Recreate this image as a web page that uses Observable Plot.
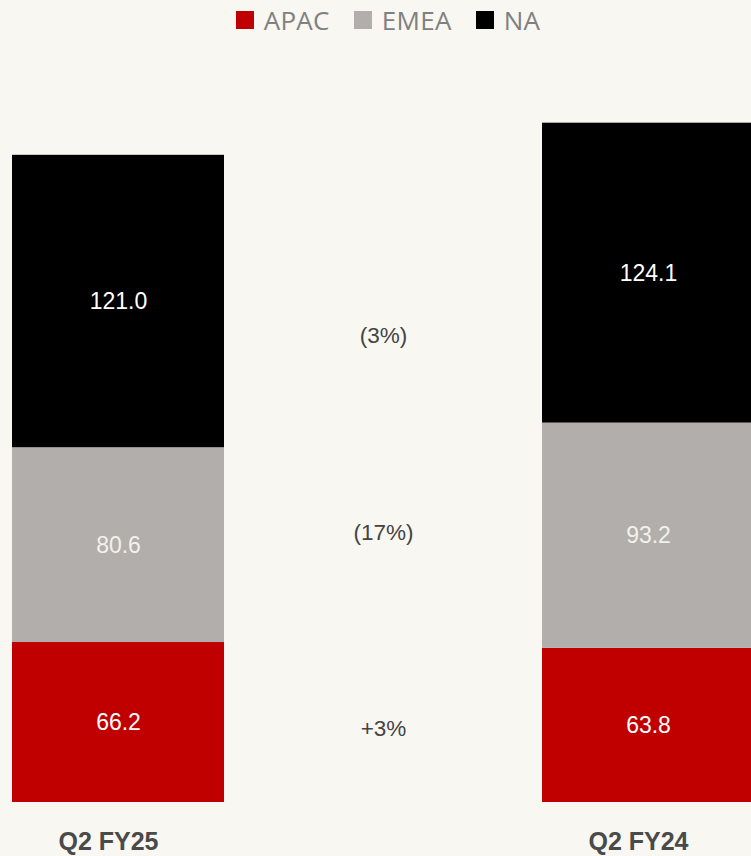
<!DOCTYPE html>
<html>
<head>
<meta charset="utf-8">
<script src="https://cdn.jsdelivr.net/npm/d3@7"></script>
<script src="https://cdn.jsdelivr.net/npm/@observablehq/plot@0.6"></script>
<style>
  html, body { margin: 0; padding: 0; background: #f8f7f1; overflow: hidden; width: 751px; height: 856px; }
  #legend { height: 44px; display: flex; justify-content: center; align-items: flex-start; padding-left: 25px; box-sizing: border-box;
            font-family: "Open Sans", sans-serif; font-size: 26px; letter-spacing: 0.3px; color: #808080; }
  .item { display: flex; align-items: center; margin: 0 12px; height: 40px; margin-top: 0px; }
  .sw { width: 18px; height: 18px; margin-right: 10px; }
  #chart svg { display: block; }
</style>
</head>
<body>
<div id="legend"></div>
<div id="chart"></div>
<script>
const periods = ["Q2 FY25", "Q2 FY24"];
const regions = ["APAC", "EMEA", "NA"];
const fy25Values = [66.2, 80.6, 121.0];
const fy24Values = [63.8, 93.2, 124.1];
const changeLabels = ["+3%", "(17%)", "(3%)"];
const regionColors = ["#c00000", "#b1aeac", "#000000"];

const seriesByPeriod = [fy25Values, fy24Values];
const data = periods.flatMap((p, i) => regions.map((r, j) => ({period: p, region: r, value: seriesByPeriod[i][j]})));
const changes = regions.map((r, j) => ({region: r, label: changeLabels[j]}));

// legend
const legend = document.getElementById("legend");
regions.forEach((r, i) => {
  const it = document.createElement("div");
  it.className = "item";
  const sw = document.createElement("span");
  sw.className = "sw";
  sw.style.background = regionColors[i];
  const tx = document.createElement("span");
  tx.textContent = r;
  it.appendChild(sw); it.appendChild(tx);
  legend.appendChild(it);
});

const MID = " ";
// vertical anchors for the change labels (data units)
const changeY = {APAC: 30.6, EMEA: 111.8, NA: 193.3};

const chart = Plot.plot({
  width: 751,
  height: 812,
  marginTop: 0, marginBottom: 0, marginLeft: 0, marginRight: 0,
  style: {background: "transparent", overflow: "visible"},
  x: {domain: [periods[0], MID, periods[1]], range: [12, 754], paddingInner: 0.2, paddingOuter: 0, axis: null},
  y: {domain: [0, 300], range: [758, 33], axis: null},
  color: {domain: regions, range: regionColors},
  marks: [
    Plot.barY(data, {x: "period", y: "value", fill: "region", order: regions}),
    Plot.text(data, Plot.stackY({
      x: "period", y: "value", z: "region", order: regions,
      text: d => d.value.toFixed(1),
      fill: d => d.region === "EMEA" ? "#f3f1ed" : "#ffffff",
      fontSize: 23, fontFamily: "Liberation Sans, Arial, sans-serif"
    })),
    Plot.text(changes, {
      x: () => MID, y: d => changeY[d.region], text: "label",
      fill: "#444444", fontSize: 22.5, fontFamily: "Liberation Sans, Arial, sans-serif"
    }),
    Plot.text(periods, {
      x: d => d, y: () => 0, text: d => d, dy: 47, dx: -10, lineAnchor: "bottom",
      fill: "#4a4a4a", fontSize: 25, fontWeight: "bold", fontFamily: "Liberation Sans, Arial, sans-serif",
      letterSpacing: "-1px"
    })
  ]
});
document.getElementById("chart").appendChild(chart);
</script>
</body>
</html>
